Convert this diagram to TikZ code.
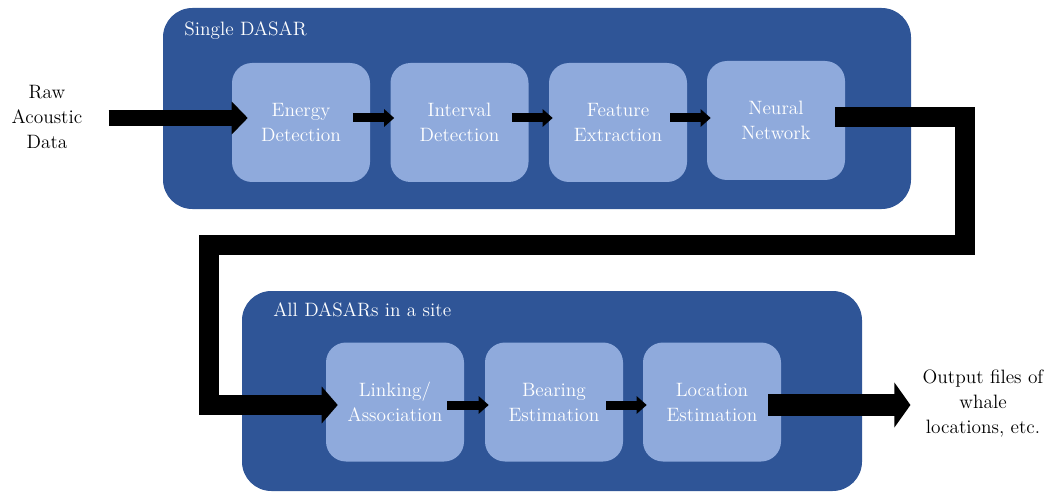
\documentclass[tikz,border=0pt]{standalone}
\usetikzlibrary{arrows.meta,calc}
\definecolor{panelblue}{RGB}{47,85,151}
\definecolor{boxblue}{RGB}{143,170,220}
\begin{document}
\begin{tikzpicture}[x=0.75pt,y=-0.75pt,
panel/.style={fill=panelblue,rounded corners=22pt,inner sep=0pt},
stageblock/.style={fill=boxblue,rounded corners=15pt,inner sep=0pt,minimum width=103.5pt,minimum height=89.25pt,text=white,align=center,font=\fontsize{14.5}{18.75}\selectfont},
paneltitle/.style={anchor=west,inner sep=0pt,text=white,font=\fontsize{14.5}{18.75}\selectfont},
plaintext/.style={align=center,inner sep=0pt,font=\fontsize{14.5}{18.75}\selectfont},
smallarrow/.style={line width=6.75pt,-{Triangle[length=7.5pt,width=12.75pt]}},
bigarrow/.style={line width=12pt,-{Triangle[length=12pt,width=24pt]}}]

\useasboundingbox (0,0) rectangle (1051,492);

% panels
\node[panel,minimum width=561pt,minimum height=150.75pt] (single) at (537,108.5) {};
\node[panel,minimum width=465pt,minimum height=150pt] (site) at (552,391) {};
\node[paneltitle] (singletitle) at (184,31) {Single DASAR};
\node[paneltitle] (sitetitle) at (273,310) {All DASARs in a site};

% stages of one DASAR
\node[stageblock] (energy) at (301,122.5) {Energy\\Detection};
\node[stageblock] (interval) at (459.5,122.5) {Interval\\Detection};
\node[stageblock] (feature) at (618,122.5) {Feature\\Extraction};
\node[stageblock] (neural) at (776,120.5) {Neural\\Network};

% stages of the site
\node[stageblock] (linking) at (395,402) {Linking/\\Association};
\node[stageblock] (bearing) at (554,402) {Bearing\\Estimation};
\node[stageblock] (location) at (712,402) {Location\\Estimation};

\node[plaintext] (raw) at (47,117) {Raw\\Acoustic\\Data};
\node[plaintext] (output) at (983,404) {Output files of\\whale\\locations, etc.};

\draw[bigarrow] ($(raw.east)+(26,1)$) -- ($(energy.west)+(16,-4.5)$);
\draw[smallarrow] ($(energy.east)+(-17,-4.5)$) -- ($(interval.west)+(4,-4.5)$);
\draw[smallarrow] ($(interval.east)+(-17,-4.5)$) -- ($(feature.west)+(4,-4.5)$);
\draw[smallarrow] ($(feature.east)+(-17,-4.5)$) -- ($(neural.west)+(4,-2.5)$);
\draw[smallarrow] ($(linking.east)+(-17,3)$) -- ($(bearing.west)+(4,3)$);
\draw[smallarrow] ($(bearing.east)+(-17,3)$) -- ($(location.west)+(4,3)$);

% link from one DASAR to the site
\coordinate (bendR) at (965,245);
\coordinate (bendL) at (209,245);
\draw[line width=15pt,-{Triangle[length=12pt,width=27pt]}]
  ($(neural.east)+(-10,-3.5)$) -| (bendR) -- (bendL) |- ($(linking.west)+(12,3)$);

\draw[line width=17pt,-{Triangle[length=12pt,width=33pt]}] ($(location.east)+(-13,3)$) -- ($(output.west)+(-12,1)$);

\end{tikzpicture}
\end{document}
